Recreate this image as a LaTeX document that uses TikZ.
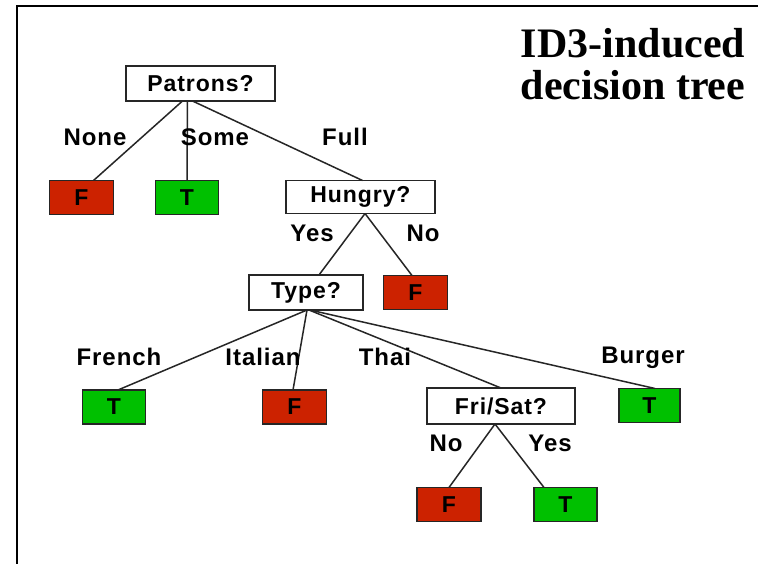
\documentclass[tikz,border=0pt]{standalone}
\usepackage{fontspec}
\setmainfont{Liberation Serif}
\newfontfamily\labfont{Liberation Sans}[LetterSpace=4]
\definecolor{fred}{HTML}{CC2200}
\definecolor{tgreen}{HTML}{00C000}
\begin{document}
\begin{tikzpicture}[x=1pt,y=-1pt,
  every node/.style={inner sep=0pt, outer sep=0pt},
  box/.style={draw=black!85, line width=1.5pt, font=\labfont\bfseries\fontsize{23}{25}\selectfont},
  qbox/.style={box, fill=white},
  fbox/.style={box, fill=fred, minimum width=64pt, minimum height=34pt},
  tbox/.style={box, fill=tgreen, minimum width=63pt, minimum height=34pt},
  elab/.style={font=\labfont\bfseries\fontsize{24}{26}\selectfont, anchor=center},
  edge/.style={draw=black!85, line width=1.5pt},
  ttl/.style={font=\bfseries\fontsize{42}{42}\selectfont, anchor=base}
]
\useasboundingbox (0,0) rectangle (758,564);
\fill[white] (0,0) rectangle (758,564);
\draw[line width=2pt] (17,564) -- (17,6) -- (758,6);

% title
\node[ttl] (t1) at (633,58) {ID3-induced};
\node[ttl] (t2) at (633,100) {decision tree};

% nodes
\node[qbox, minimum width=149pt, minimum height=35pt] (pat) at (200.5,83.5) {Patrons?};
\node[fbox] (fN) at (81.5,197.5) {F};
\node[tbox] (tS) at (187,197.5) {T};
\node[qbox, minimum width=149pt, minimum height=33pt] (hun) at (360.5,197) {Hungry?};
\node[qbox, minimum width=114pt, minimum height=35pt] (typ) at (306,292.5) {Type?};
\node[fbox] (fH) at (415.5,292.5) {F};
\node[tbox] (tFr) at (114,407) {T};
\node[fbox] (fIt) at (294.5,407) {F};
\node[qbox, minimum width=148pt, minimum height=36pt] (fri) at (501,406) {Fri/Sat?};
\node[tbox, minimum width=61pt] (tBu) at (649.5,405.5) {T};
\node[fbox] (fNo) at (449,504.5) {F};
\node[tbox] (tYe) at (565.5,504.5) {T};

% connectors
\draw[edge] ([xshift=-18pt]pat.south) -- ([xshift=12pt]fN.north);
\draw[edge] ([xshift=-13pt]pat.south) -- (tS.north);
\draw[edge] ([xshift=-8pt]pat.south) -- ([xshift=2pt]hun.north);
\draw[edge] ([xshift=4.5pt]hun.south) -- ([xshift=13pt]typ.north);
\draw[edge] ([xshift=4.5pt]hun.south) -- ([xshift=-3.5pt]fH.north);
\draw[edge] ([xshift=1pt]typ.south) -- ([xshift=4pt]tFr.north);
\draw[edge] ([xshift=1pt]typ.south) -- ([xshift=-1.5pt]fIt.north);
\draw[edge] ([xshift=3pt]typ.south) -- (fri.north);
\draw[edge] ([xshift=4pt]typ.south) -- ([xshift=5.5pt]tBu.north);
\draw[edge] ([xshift=-6pt]fri.south) -- (fNo.north);
\draw[edge] ([xshift=-6pt]fri.south) -- ([xshift=-21.5pt]tYe.north);

% edge labels
\node[elab] (lNone) at (95,137) {None};
\node[elab] (lSome) at (215,137) {Some};
\node[elab] (lFull) at (345,137) {Full};
\node[elab] (lYes1) at (312,233) {Yes};
\node[elab] (lNo1) at (423,233) {No};
\node[elab] (lFr) at (119,357) {French};
\node[elab] (lIt) at (263,357) {Italian};
\node[elab] (lTh) at (385,357) {Thai};
\node[elab] (lBu) at (643,358) {Burger};
\node[elab] (lNo2) at (446,443) {No};
\node[elab] (lYe2) at (550,443) {Yes};
\end{tikzpicture}
\end{document}
